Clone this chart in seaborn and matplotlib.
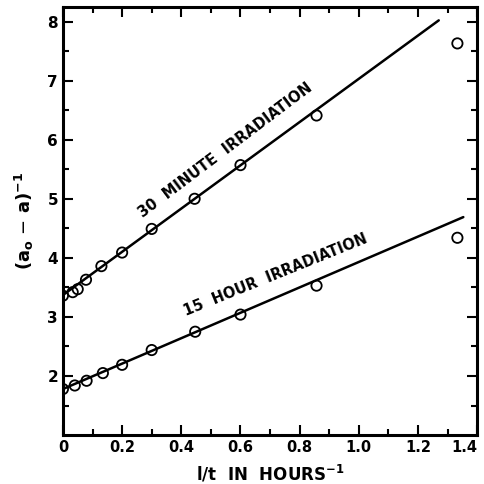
import matplotlib
matplotlib.use("Agg")
import matplotlib.pyplot as plt
import seaborn as sns
import numpy as np
import pandas as pd

# data
x_30min = [0.0, 0.033, 0.05, 0.078, 0.13, 0.2, 0.3, 0.445, 0.6, 0.857, 1.333]
y_30min = [3.36, 3.42, 3.47, 3.63, 3.86, 4.09, 4.49, 5.0, 5.57, 6.41, 7.63]
x_15hr = [0.0, 0.04, 0.08, 0.135, 0.2, 0.3, 0.447, 0.6, 0.857, 1.333]
y_15hr = [1.78, 1.84, 1.92, 2.05, 2.19, 2.44, 2.75, 3.04, 3.53, 4.34]
fit30_x = [0.0, 1.27]
fit30_y = [3.37, 8.02]
fit15_x = [0.0, 1.353]
fit15_y = [1.78, 4.69]
x_ticks = [0, 0.2, 0.4, 0.6, 0.8, 1.0, 1.2, 1.4]
x_ticklabels = ["0", "0.2", "0.4", "0.6", "0.8", "1.0", "1.2", "1.4"]
y_ticks = [2, 3, 4, 5, 6, 7, 8]

sns.set_style("ticks")
plt.rcParams['font.family'] = ['DejaVu Sans']
plt.rcParams.update({"text.color": "black", "axes.labelcolor": "black",
                     "xtick.color": "black", "ytick.color": "black",
                     "axes.edgecolor": "black"})

fig = plt.figure(figsize=(4.84, 4.84), dpi=100)
ax = fig.add_axes([0.130, 0.101, 0.856, 0.885])

pts = pd.DataFrame({"x": x_30min + x_15hr,
                    "y": y_30min + y_15hr,
                    "s": ["30"] * len(x_30min) + ["15"] * len(x_15hr)})
lines = pd.DataFrame({"x": fit30_x + fit15_x, "y": fit30_y + fit15_y,
                      "s": ["30"] * 2 + ["15"] * 2})

sns.lineplot(data=lines, x="x", y="y", units="s", estimator=None,
             color="black", lw=1.8, ax=ax)
sns.scatterplot(data=pts, x="x", y="y", marker="o", s=55,
                facecolors="none", edgecolor="black", linewidth=1.3, ax=ax, zorder=3)

ax.set_xlim(0, 1.4)
ax.set_ylim(1, 8.25)
ax.set_xticks(x_ticks)
ax.set_xticklabels(x_ticklabels, fontweight="bold", fontsize=10.5)
ax.get_xticklabels()[-1].set_ha("right")
ax.set_xticks(np.arange(0.1, 1.4, 0.2), minor=True)
ax.set_yticks(y_ticks)
ax.set_yticklabels([str(v) for v in y_ticks], fontweight="bold", fontsize=11)
ax.set_yticks(np.arange(1.5, 8.25, 1.0), minor=True)
ax.tick_params(which="both", direction="in", top=True, right=True, width=1.5)
ax.tick_params(which="major", length=7)
ax.tick_params(which="minor", length=4)
for sp in ax.spines.values():
    sp.set_linewidth(2.2)
    sp.set_visible(True)

ax.set_xlabel(r"l/t  IN  HOURS$^{\mathbf{-1}}$", fontweight="bold", fontsize=12, labelpad=6)
ax.set_ylabel(r"(a$_\mathbf{o}$ $-$ a)$^{\mathbf{-1}}$", fontweight="bold", fontsize=13, labelpad=8)

ax.text(0.55, 5.83, "30  MINUTE  IRRADIATION", rotation=37, ha="center", va="center",
        fontweight="bold", fontsize=10.5, rotation_mode="anchor")
ax.text(0.72, 3.71, "15  HOUR  IRRADIATION", rotation=22, ha="center", va="center",
        fontweight="bold", fontsize=10.5, rotation_mode="anchor")

fig.savefig("out.png", dpi=100)
